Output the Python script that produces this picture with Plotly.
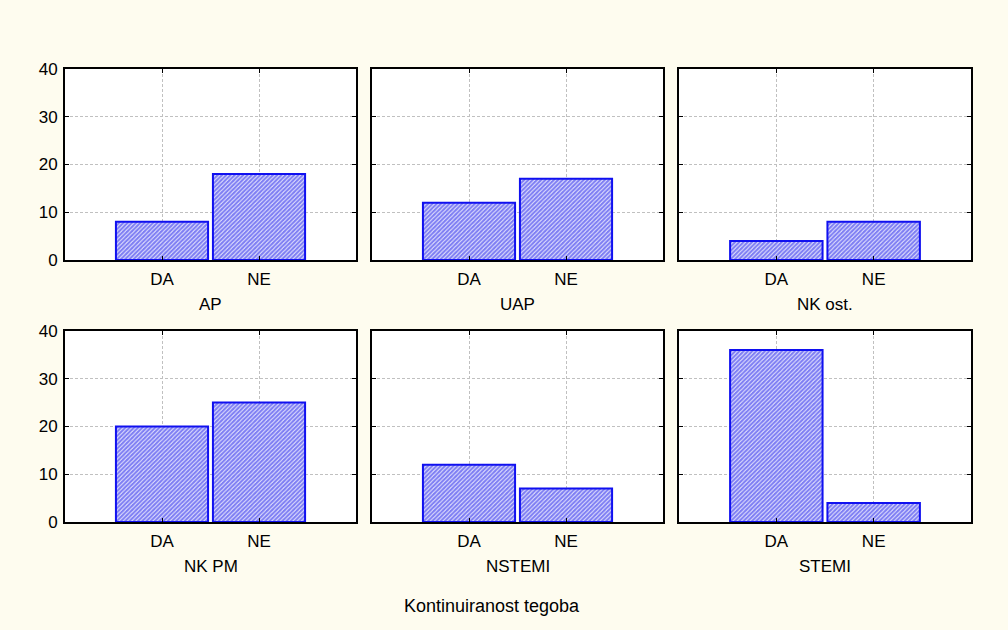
import plotly.graph_objects as go

categories = ['DA', 'NE']
panel_names = ['AP', 'UAP', 'NK ost.', 'NK PM', 'NSTEMI', 'STEMI']
ap = [8, 18]
uap = [12, 17]
nk_ost = [4, 8]
nk_pm = [20, 25]
nstemi = [12, 7]
stemi = [36, 4]
y_ticks = [0, 10, 20, 30, 40]
x_title = 'Kontinuiranost tegoba'

series = [ap, uap, nk_ost, nk_pm, nstemi, stemi]

W, H = 1008, 630
cols_px = [(65, 356), (372, 663), (679, 971)]
rows_px = [(69, 260), (331, 522)]

font = dict(family='Liberation Sans, Arial, sans-serif', size=17, color='black')
bg = '#FEFCEF'

fig = go.Figure()
layout = dict(
    width=W, height=H,
    margin=dict(l=0, r=0, t=0, b=0),
    paper_bgcolor=bg, plot_bgcolor='white',
    showlegend=False, font=font,
)
annotations = []

for i, (name, vals) in enumerate(zip(panel_names, series)):
    r, c = divmod(i, 3)
    n = i + 1
    xa = 'x' if n == 1 else f'x{n}'
    ya = 'y' if n == 1 else f'y{n}'
    fig.add_trace(go.Bar(
        x=categories, y=vals, xaxis=xa, yaxis=ya, width=0.95,
        marker=dict(
            color='white',
            line=dict(color='#1010F0', width=2),
            pattern=dict(shape='/', fgcolor='#0000E8', bgcolor='white',
                         size=3, solidity=0.75),
        ),
    ))
    x0, x1 = cols_px[c]
    y0, y1 = rows_px[r]
    axis_common = dict(
        showline=True, linecolor='black', linewidth=2, mirror='ticks',
        ticks='inside', ticklen=4, tickcolor='black', automargin=False,
        showgrid=True, gridcolor='#c0c0c0', griddash='3px,2px', gridwidth=1,
        zeroline=False, tickfont=font,
    )
    layout['xaxis' if n == 1 else f'xaxis{n}'] = dict(
        axis_common, domain=[x0 / W, x1 / W], anchor=ya,
        range=[-1, 2], type='category', ticklabelstandoff=3,
    )
    layout['yaxis' if n == 1 else f'yaxis{n}'] = dict(
        axis_common, domain=[1 - y1 / H, 1 - y0 / H], anchor=xa,
        range=[0, 40], tickvals=y_ticks, showticklabels=(c == 0),
        ticklabelstandoff=2,
    )
    annotations.append(dict(
        text=name, xref='paper', yref='paper',
        x=(x0 + x1) / 2 / W, y=1 - (y1 + 44) / H,
        xanchor='center', yanchor='middle', showarrow=False, font=font,
    ))

annotations.append(dict(
    text=x_title, xref='paper', yref='paper',
    x=492 / W, y=1 - 606 / H, xanchor='center', yanchor='middle',
    showarrow=False, font=dict(font, size=18),
))
layout['annotations'] = annotations
fig.update_layout(**layout)
fig.write_html(
    'out.html',
    config={'displayModeBar': False},
    post_script="document.body.style.margin='0';document.body.style.overflow='hidden';",
)
